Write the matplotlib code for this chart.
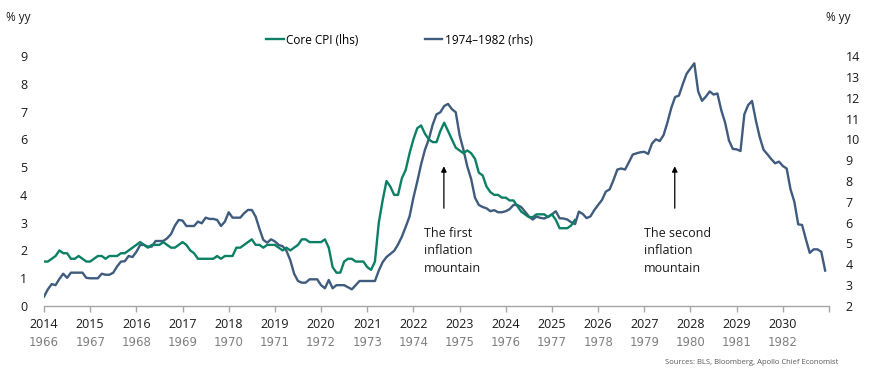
import matplotlib
matplotlib.use("Agg")
import matplotlib.pyplot as plt
from matplotlib.lines import Line2D
import numpy as np

plt.rcParams['font.family'] = ['Open Sans', 'DejaVu Sans']

# ---- data ----
new_years = list(range(2014, 2031))          # bottom tick labels (first row)
old_years = list(range(1966, 1983))          # second row labels

# Core CPI yoy (lhs), monthly Jan 2014 - Jul 2025
core_cpi = [
    1.6, 1.6, 1.7, 1.8, 2.0, 1.9, 1.9, 1.7, 1.7, 1.8, 1.7, 1.6,   # 2014
    1.6, 1.7, 1.8, 1.8, 1.7, 1.8, 1.8, 1.8, 1.9, 1.9, 2.0, 2.1,   # 2015
    2.2, 2.3, 2.2, 2.1, 2.2, 2.2, 2.2, 2.3, 2.2, 2.1, 2.1, 2.2,   # 2016
    2.3, 2.2, 2.0, 1.9, 1.7, 1.7, 1.7, 1.7, 1.7, 1.8, 1.7, 1.8,   # 2017
    1.8, 1.8, 2.1, 2.1, 2.2, 2.3, 2.4, 2.2, 2.2, 2.1, 2.2, 2.2,   # 2018
    2.2, 2.1, 2.0, 2.1, 2.0, 2.1, 2.2, 2.4, 2.4, 2.3, 2.3, 2.3,   # 2019
    2.3, 2.4, 2.1, 1.4, 1.2, 1.2, 1.6, 1.7, 1.7, 1.6, 1.6, 1.6,   # 2020
    1.4, 1.3, 1.6, 3.0, 3.8, 4.5, 4.3, 4.0, 4.0, 4.6, 4.9, 5.5,   # 2021
    6.0, 6.4, 6.5, 6.2, 6.0, 5.9, 5.9, 6.3, 6.6, 6.3, 6.0, 5.7,   # 2022
    5.6, 5.5, 5.6, 5.5, 5.3, 4.8, 4.7, 4.3, 4.1, 4.0, 4.0, 3.9,   # 2023
    3.9, 3.8, 3.8, 3.6, 3.4, 3.3, 3.2, 3.2, 3.3, 3.3, 3.3, 3.2,   # 2024
    3.3, 3.1, 2.8, 2.8, 2.8, 2.9, 3.1,                            # 2025
]

# CPI yoy 1966-1982 (rhs), monthly, plotted on 2014-2030 timeline
cpi_1966_1982 = [
    2.45, 2.8, 3.05, 3.0, 3.3, 3.55, 3.35, 3.6, 3.6, 3.6, 3.6, 3.35,         # 1966
    3.33, 3.33, 3.33, 3.55, 3.5, 3.5, 3.6, 3.9, 4.13, 4.15, 4.4, 4.35,       # 1967
    4.6, 4.93, 4.93, 4.85, 4.85, 5.12, 5.12, 5.12, 5.25, 5.45, 5.85, 6.13,   # 1968
    6.1, 5.84, 5.84, 5.84, 6.05, 5.97, 6.24, 6.18, 6.18, 6.13, 5.84, 6.05,   # 1969
    6.5, 6.24, 6.24, 6.24, 6.45, 6.61, 6.61, 6.29, 5.7, 5.17, 5.04, 5.2,     # 1970
    5.1, 4.93, 4.87, 4.65, 4.2, 3.55, 3.2, 3.12, 3.12, 3.28, 3.28, 3.28,     # 1971
    3.0, 2.85, 3.25, 2.85, 3.0, 3.0, 3.0, 2.9, 2.8, 3.0, 3.2, 3.2,           # 1972
    3.2, 3.2, 3.2, 3.7, 4.1, 4.35, 4.5, 4.65, 4.95, 5.33, 5.8, 6.3,          # 1973
    7.2, 7.97, 8.8, 9.5, 10.0, 10.7, 11.2, 11.3, 11.6, 11.7, 11.45, 11.3,    # 1974
    10.2, 9.5, 8.7, 8.1, 7.2, 6.85, 6.75, 6.69, 6.55, 6.6, 6.5, 6.5,         # 1975
    6.55, 6.65, 6.85, 6.85, 6.75, 6.53, 6.3, 6.15, 6.29, 6.23, 6.2, 6.29,    # 1976
    6.4, 6.55, 6.21, 6.2, 6.15, 6.02, 5.93, 6.53, 6.42, 6.22, 6.3, 6.6,      # 1977
    6.85, 7.09, 7.49, 7.6, 8.05, 8.55, 8.6, 8.55, 8.9, 9.27, 9.33, 9.38,     # 1978
    9.4, 9.3, 9.8, 10.0, 9.92, 10.2, 10.8, 11.5, 12.03, 12.1, 12.65, 13.15,  # 1979
    13.4, 13.65, 12.3, 11.85, 12.05, 12.3, 12.15, 12.2, 11.4, 10.8, 9.95, 9.54,  # 1980
    9.52, 9.44, 11.2, 11.65, 11.84, 10.9, 10.1, 9.5, 9.28, 9.05, 8.85, 8.93,     # 1981
    8.72, 8.6, 7.6, 7.0, 5.92, 5.89, 5.2, 4.55, 4.72, 4.72, 4.6, 3.7,            # 1982
]

GREEN = '#0B8065'
BLUE = '#3F5B7D'

t_core = 2014 + np.arange(len(core_cpi)) / 12.0
t_old = 2014 + np.arange(len(cpi_1966_1982)) / 12.0

fig = plt.figure(figsize=(8.69, 3.78), dpi=100)
W, H = 869.0, 378.0
ax = fig.add_axes([44 / W, 1 - 306 / H, (829 - 44) / W, 250 / H])
ax2 = ax.twinx()

ax.plot(t_core, core_cpi, color=GREEN, lw=1.7, zorder=3)
ax2.plot(t_old, cpi_1966_1982, color=BLUE, lw=1.7, zorder=2)
ax.set_zorder(ax2.get_zorder() + 1)
ax.patch.set_visible(False)

ax.set_xlim(2014, 2031)
ax.set_ylim(0, 9)
ax2.set_ylim(2, 14)
ax.set_yticks(range(0, 10))
ax2.set_yticks(range(2, 15))

for a in (ax, ax2):
    for s in ('top', 'left', 'right'):
        a.spines[s].set_visible(False)
    a.spines['bottom'].set_visible(False)
ax.spines['bottom'].set_visible(True)
ax.spines['bottom'].set_color('#A6A6A6')
ax.spines['bottom'].set_linewidth(1.0)

ax.tick_params(axis='y', length=0, pad=12, labelsize=9, labelcolor='#1A1A1A')
ax2.tick_params(axis='y', length=0, pad=12, labelsize=9, labelcolor='#1A1A1A')

ticks = list(new_years) + [2031]
ax.set_xticks(ticks, labels=[str(y) for y in new_years] + [''])
ax.tick_params(axis='x', direction='out', length=4, width=1, color='#A6A6A6',
               pad=5, labelsize=9, labelcolor='#1A1A1A')

for ny, oy in zip(new_years, old_years):
    ax.text(ny, -0.147, str(oy), transform=ax.get_xaxis_transform(),
            ha='center', va='center', fontsize=8.5, color='#7F7F7F',
            family=['DejaVu Sans'])

# Axis unit labels
fig.text(6 / W, 1 - 18 / H, '% yy', ha='left', va='center', fontsize=8.5, color='#1A1A1A')
fig.text(851 / W, 1 - 18 / H, '% yy', ha='right', va='center', fontsize=8.5, color='#1A1A1A')

# Legend
handles = [Line2D([], [], color=GREEN, lw=1.7), Line2D([], [], color=BLUE, lw=1.7)]
fig.legend(handles, ['Core CPI (lhs)', '1974\u20131982 (rhs)'], ncol=2,
           loc='center left', bbox_to_anchor=(266 / W, 1 - 40 / H), frameon=False,
           fontsize=8.5, handlelength=1.5, handletextpad=0.2, columnspacing=5.6,
           borderpad=0, borderaxespad=0)

# Annotations
ax.annotate('', xy=(2022.66, 5.13), xytext=(2022.66, 3.42),
            arrowprops=dict(arrowstyle='-|>', color='black', lw=0.9, mutation_scale=8))
ax.text(2022.23, 2.85, 'The first\ninflation\nmountain', ha='left', va='top',
        fontsize=9, color='#1A1A1A', linespacing=1.45)
ax.annotate('', xy=(2027.66, 5.13), xytext=(2027.66, 3.42),
            arrowprops=dict(arrowstyle='-|>', color='black', lw=0.9, mutation_scale=8))
ax.text(2026.99, 2.85, 'The second\ninflation\nmountain', ha='left', va='top',
        fontsize=9, color='#1A1A1A', linespacing=1.45)

fig.text(838 / W, 1 - 363 / H, 'Sources: BLS, Bloomberg, Apollo Chief Economist',
         ha='right', va='center', fontsize=5.5, color='#595959')

fig.savefig('out.png', dpi=100)
